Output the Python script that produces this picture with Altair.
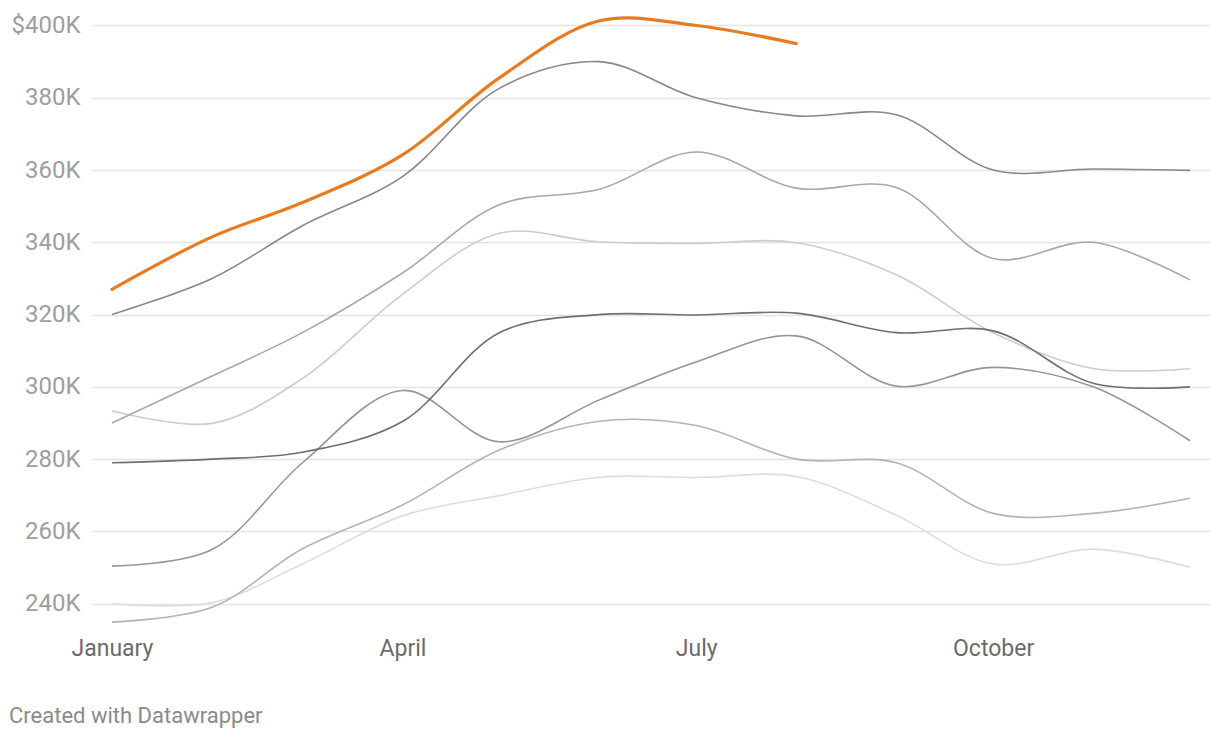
import altair as alt
import pandas as pd

months = ["2019-01-01T00:00:00Z", "2019-02-01T00:00:00Z", "2019-03-01T00:00:00Z",
          "2019-04-01T00:00:00Z", "2019-05-01T00:00:00Z", "2019-06-01T00:00:00Z",
          "2019-07-01T00:00:00Z", "2019-08-01T00:00:00Z", "2019-09-01T00:00:00Z",
          "2019-10-01T00:00:00Z", "2019-11-01T00:00:00Z", "2019-12-01T00:00:00Z"]

# values in thousands of dollars
orange = [327, 341.5, 351, 364.2, 385.5, 401.3, 400, 395]
g1 = [320, 330, 344.6, 358.2, 382.6, 390, 380, 375, 375.3, 360, 360.3, 359.9]
g2 = [290, 303, 315, 331.5, 350.4, 354.7, 365, 355, 355.2, 335.5, 340, 329.6]
g3 = [293.4, 289.9, 302.3, 325.6, 342.5, 340.1, 339.7, 339.9, 331, 315, 305.1, 305]
g4 = [279, 280, 281.9, 290.4, 315, 320, 319.9, 320.4, 315, 315.5, 301, 300]
g5 = [250.4, 255, 279, 299, 284.8, 296.4, 306.9, 314.1, 300.2, 305.4, 300, 285.1]
g6 = [234.9, 239, 255.2, 267.3, 282.5, 290.5, 289.3, 280, 279, 265, 265, 269.2]
g7 = [240, 240.3, 251, 264.3, 269.9, 275, 274.9, 275.2, 264.5, 251, 255.1, 250.1]

series_names = ["g7", "g3", "g6", "g2", "g5", "g1", "g4"]
series_vals = [g7, g3, g6, g2, g5, g1, g4]
series_colors = ["#dddddd", "#cccccc", "#b3b3b3", "#a8a8a8", "#959595", "#878787", "#6f6f6f"]

y_ticks = [240, 260, 280, 300, 320, 340, 360, 380, 400]

rows = []
for name, vals in zip(series_names, series_vals):
    for i, (m, v) in enumerate(zip(months, vals)):
        rows.append({"month": m, "value": v, "series": name, "order": i})
df = pd.DataFrame(rows)
df_orange = pd.DataFrame({"month": months[:len(orange)], "value": orange})

x_scale = alt.Scale(
    type="utc",
    domain=[alt.DateTime(year=2018, month=12, date=25, hours=19, minutes=16, utc=True),
            alt.DateTime(year=2019, month=12, date=7, hours=4, minutes=44, utc=True)],
)
x_axis = alt.Axis(
    values=[alt.DateTime(year=2019, month=m, date=1, utc=True) for m in (1, 4, 7, 10)],
    labelExpr="utcFormat(datum.value, '%B')", grid=False, domain=False, ticks=False,
    labelPadding=7, labelFontSize=23, labelFont="Roboto", labelColor="#6b6b6b",
    title=None, labelFlush=False,
)
y_scale = alt.Scale(domain=[232.72, 402.075], nice=False, zero=False)
y_axis = alt.Axis(
    values=y_ticks,
    labelExpr="datum.value == 400 ? '$400K' : datum.value + 'K'",
    grid=True, gridColor="#e3e3e3", gridWidth=1.5, domain=False, ticks=False,
    labelPadding=12, labelFontSize=24, labelFont="Roboto", labelColor="#9e9e9e",
    title=None,
)

grays = alt.Chart(df).mark_line(interpolate="catmull-rom", strokeWidth=1.6).encode(
    x=alt.X("month:T", scale=x_scale, axis=x_axis),
    y=alt.Y("value:Q", scale=y_scale, axis=y_axis),
    color=alt.Color("series:N", scale=alt.Scale(domain=series_names, range=series_colors), legend=None),
    order="order:Q",
)

orange_line = alt.Chart(df_orange).mark_line(
    interpolate="catmull-rom", strokeWidth=3.2, color="#e87b1e", strokeCap="round"
).encode(
    x=alt.X("month:T", scale=x_scale),
    y=alt.Y("value:Q", scale=y_scale),
)

footer = alt.Chart(pd.DataFrame({"t": ["Created with Datawrapper"]})).mark_text(
    align="left", baseline="alphabetic", fontSize=22, font="Roboto", color="#8a8a8a"
).encode(text="t:N", x=alt.value(-83), y=alt.value(704.7))

chart = alt.layer(grays, orange_line, footer).properties(
    width=1118, height=612,
    padding={"left": 84, "top": 10, "right": 2, "bottom": 100},
    autosize=alt.AutoSizeParams(type="none"),
).configure_view(stroke=None)

chart.save("out.html", embed_options={"renderer": "svg", "actions": False})
